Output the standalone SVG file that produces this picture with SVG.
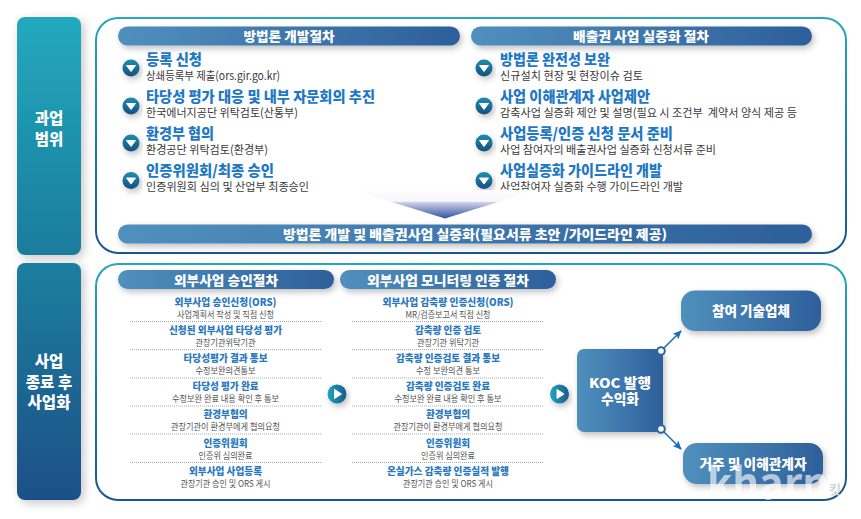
<svg xmlns="http://www.w3.org/2000/svg" width="861" height="519" viewBox="0 0 861 519">
<style>
text{font-family:"Noto Sans CJK KR","Noto Sans",sans-serif}
.hd{font-weight:800;font-size:13px;fill:#fff;text-anchor:middle}
.t{font-weight:900;font-size:14.5px;fill:#1e78c6}
.s{font-size:11.500px;fill:#3a3a3a}
.ct{font-weight:800;font-size:10.500px;fill:#2a78c0;text-anchor:middle}
.cs{font-size:9.200px;fill:#555;text-anchor:middle}
.side{font-weight:900;font-size:15.500px;fill:#fff;text-anchor:middle}
.box{font-weight:800;font-size:13.500px;fill:#fff;text-anchor:middle}
.dot{stroke:#aaa;stroke-width:1;stroke-dasharray:1 1;fill:none}
.conn{stroke:#1a6fbb;stroke-width:1.6;fill:none;marker-end:url(#ah)}
.knob{fill:#fff;stroke:#2b66a3;stroke-width:2}
</style>
<defs>
<linearGradient id="bar" x1="0" x2="1" y1="0" y2="0"><stop offset="0" stop-color="#5090bd"/><stop offset="1" stop-color="#2d5f9b"/></linearGradient>
<linearGradient id="side1" x1="0" x2="0" y1="0" y2="1"><stop offset="0" stop-color="#23a9bd"/><stop offset="1" stop-color="#1a7c9d"/></linearGradient>
<linearGradient id="side2" x1="0" x2="0" y1="0" y2="1"><stop offset="0" stop-color="#1a7f9f"/><stop offset="1" stop-color="#1a5087"/></linearGradient>
<linearGradient id="pan" x1="0" x2="0" y1="0" y2="1"><stop offset="0" stop-color="#25a8bc"/><stop offset="1" stop-color="#1a5690"/></linearGradient>
<linearGradient id="bul" x1="0" x2="0" y1="0" y2="1"><stop offset="0" stop-color="#1e8fac"/><stop offset="1" stop-color="#174f80"/></linearGradient>
<linearGradient id="play" x1="0" x2="1" y1="0" y2="0"><stop offset="0" stop-color="#22a5ba"/><stop offset="1" stop-color="#1a5a90"/></linearGradient>
<linearGradient id="tri" x1="0" x2="0" y1="0" y2="1"><stop offset="0" stop-color="#fff"/><stop offset=".4" stop-color="#f6f6fb"/><stop offset=".43" stop-color="#cfd2ea"/><stop offset="1" stop-color="#3450a0"/></linearGradient>
<filter id="sh" x="-20%" y="-30%" width="140%" height="180%"><feDropShadow dx="2" dy="3" stdDeviation="3" flood-color="#000" flood-opacity=".25"/></filter>
<filter id="sh2" x="-30%" y="-20%" width="170%" height="130%"><feDropShadow dx="3" dy="3" stdDeviation="5" flood-color="#000" flood-opacity=".22"/></filter>
<marker id="ah" markerWidth="9" markerHeight="8" refX="8" refY="4" orient="auto" markerUnits="userSpaceOnUse"><path d="M0 0L9 4L0 8L2 4Z" fill="#1a6fbb"/></marker>
<g id="bl"><circle r="8.500" fill="url(#bul)" filter="url(#sh)"/><path d="M-4.500-2.500H4.500L0 3.500Z" fill="#fff" stroke="#fff" stroke-linejoin="round"/></g>
<g id="pl"><circle r="9.500" fill="url(#play)" filter="url(#sh)"/><path d="M-2.500-4.500L4.500 0L-2.500 4.500Z" fill="#fff" stroke="#fff" stroke-linejoin="round"/></g>
</defs>

<g id="side-scope"><rect x="17" y="17" width="64" height="238" rx="8" fill="url(#side1)" filter="url(#sh2)"/>
<text class="side" x="49" y="123.500">과업</text><text class="side" x="49" y="144.500">범위</text></g>
<g id="side-after"><rect x="17" y="263" width="64" height="237" rx="8" fill="url(#side2)" filter="url(#sh2)"/>
<text class="side" x="49" y="367">사업</text><text class="side" x="49" y="387.500">종료 후</text><text class="side" x="49" y="407.500">사업화</text></g>

<g id="panel-top"><rect x="96" y="18" width="750" height="235" rx="22" fill="#fff" stroke="url(#pan)" stroke-width="2"/></g>
<g id="panel-bottom"><rect x="96" y="264" width="750" height="236" rx="22" fill="#fff" stroke="url(#pan)" stroke-width="2"/></g>

<g id="header-method"><rect x="118" y="26.500" width="342" height="19" rx="9.500" fill="url(#bar)" filter="url(#sh)"/><text class="hd" x="289" y="40.500" textLength="91" lengthAdjust="spacingAndGlyphs">방법론 개발절차</text></g>
<g id="header-credit"><rect x="471" y="26.500" width="341" height="19" rx="9.500" fill="url(#bar)" filter="url(#sh)"/><text class="hd" x="641" y="40.500" textLength="136" lengthAdjust="spacingAndGlyphs">배출권 사업 실증화 절차</text></g>

<g id="left-steps">
<use href="#bl" x="131" y="68"/><text class="t" x="146" y="64.500" textLength="56" lengthAdjust="spacingAndGlyphs">등록 신청</text><text class="s" x="146" y="79.500" textLength="134" lengthAdjust="spacingAndGlyphs">상쇄등록부 제출(ors.gir.go.kr)</text>
<use href="#bl" x="131" y="106"/><text class="t" x="146" y="102" textLength="229" lengthAdjust="spacingAndGlyphs">타당성 평가 대응 및 내부 자문회의 추진</text><text class="s" x="146" y="116.500" textLength="152" lengthAdjust="spacingAndGlyphs">한국에너지공단 위탁검토(산통부)</text>
<use href="#bl" x="131" y="143"/><text class="t" x="146" y="139" textLength="68" lengthAdjust="spacingAndGlyphs">환경부 협의</text><text class="s" x="146" y="153.500" textLength="122" lengthAdjust="spacingAndGlyphs">환경공단 위탁검토(환경부)</text>
<use href="#bl" x="131" y="180.500"/><text class="t" x="146" y="176" textLength="128" lengthAdjust="spacingAndGlyphs">인증위원회/최종 승인</text><text class="s" x="146" y="190.500" textLength="163" lengthAdjust="spacingAndGlyphs">인증위원회 심의 및 산업부 최종승인</text>
</g>
<g id="right-steps">
<use href="#bl" x="484" y="68"/><text class="t" x="500" y="64.500" textLength="110" lengthAdjust="spacingAndGlyphs">방법론 완전성 보완</text><text class="s" x="500" y="79.500" textLength="143" lengthAdjust="spacingAndGlyphs">신규설치 현장 및 현장이슈 검토</text>
<use href="#bl" x="484" y="106"/><text class="t" x="500" y="102" textLength="150" lengthAdjust="spacingAndGlyphs">사업 이해관계자 사업제안</text><text class="s" x="500" y="116.500" textLength="297" lengthAdjust="spacingAndGlyphs" xml:space="preserve">감축사업 실증화 제안 및 설명(필요 시 조건부  계약서 양식 제공 등</text>
<use href="#bl" x="484" y="143"/><text class="t" x="500" y="139" textLength="173" lengthAdjust="spacingAndGlyphs">사업등록/인증 신청 문서 준비</text><text class="s" x="500" y="153.500" textLength="216" lengthAdjust="spacingAndGlyphs">사업 참여자의 배출권사업 실증화 신청서류 준비</text>
<use href="#bl" x="484" y="180.500"/><text class="t" x="500" y="176" textLength="162" lengthAdjust="spacingAndGlyphs">사업실증화 가이드라인 개발</text><text class="s" x="500" y="190.500" textLength="183" lengthAdjust="spacingAndGlyphs">사업참여자 실증화 수행 가이드라인 개발</text>
</g>

<polygon id="funnel" points="353,190 537,190 445,218.500" fill="url(#tri)"/>

<g id="bar-result"><rect x="118" y="224.500" width="694" height="19" rx="9.500" fill="url(#bar)" filter="url(#sh)"/><text class="hd" x="475" y="238.500" textLength="384" lengthAdjust="spacingAndGlyphs">방법론 개발 및 배출권사업 실증화(필요서류 초안 /가이드라인 제공)</text></g>

<g id="header-approval"><rect x="118" y="270" width="216" height="19" rx="9.500" fill="url(#bar)" filter="url(#sh)"/><text class="hd" x="226" y="284.500" textLength="104" lengthAdjust="spacingAndGlyphs">외부사업 승인절차</text></g>
<g id="header-monitor"><rect x="340" y="270" width="216" height="19" rx="9.500" fill="url(#bar)" filter="url(#sh)"/><text class="hd" x="448" y="284.500" textLength="162" lengthAdjust="spacingAndGlyphs">외부사업 모니터링 인증 절차</text></g>

<g id="approval-list">
<text class="ct" x="225.500" y="306" textLength="102" lengthAdjust="spacingAndGlyphs">외부사업 승인신청(ORS)</text><text class="cs" x="225.500" y="318" textLength="97" lengthAdjust="spacingAndGlyphs">사업계획서 작성 및 직접 신청</text>
<path class="dot" d="M130 321.500H322"/>
<text class="ct" x="225.500" y="334" textLength="113" lengthAdjust="spacingAndGlyphs">신청된 외부사업 타당성 평가</text><text class="cs" x="225.500" y="346" textLength="60" lengthAdjust="spacingAndGlyphs">관장기관위탁기관</text>
<path class="dot" d="M130 349.500H322"/>
<text class="ct" x="225.500" y="362" textLength="84" lengthAdjust="spacingAndGlyphs">타당성평가 결과 통보</text><text class="cs" x="225.500" y="374" textLength="60" lengthAdjust="spacingAndGlyphs">수정보완의견통보</text>
<path class="dot" d="M130 378H322"/>
<text class="ct" x="225.500" y="390" textLength="66" lengthAdjust="spacingAndGlyphs">타당성 평가 완료</text><text class="cs" x="225.500" y="402" textLength="107" lengthAdjust="spacingAndGlyphs">수정보완 완료 내용 확인 후 통보</text>
<path class="dot" d="M130 406H322"/>
<text class="ct" x="225.500" y="418" textLength="44" lengthAdjust="spacingAndGlyphs">환경부협의</text><text class="cs" x="225.500" y="430" textLength="109" lengthAdjust="spacingAndGlyphs">관장기관이 환경부에게 협의요청</text>
<path class="dot" d="M130 434H322"/>
<text class="ct" x="225.500" y="446.500" textLength="44" lengthAdjust="spacingAndGlyphs">인증위원회</text><text class="cs" x="225.500" y="458.500" textLength="54" lengthAdjust="spacingAndGlyphs">인증위 심의완료</text>
<path class="dot" d="M130 462.500H322"/>
<text class="ct" x="225.500" y="474.500" textLength="73" lengthAdjust="spacingAndGlyphs">외부사업 사업등록</text><text class="cs" x="225.500" y="486.500" textLength="90" lengthAdjust="spacingAndGlyphs">관장기관 승인 및 ORS 게시</text>
</g>
<g id="monitor-list">
<text class="ct" x="448" y="306" textLength="131" lengthAdjust="spacingAndGlyphs">외부사업 감축량 인증신청(ORS)</text><text class="cs" x="448" y="318" textLength="85" lengthAdjust="spacingAndGlyphs">MR/검증보고서 직접 신청</text>
<path class="dot" d="M352 321.500H544"/>
<text class="ct" x="448" y="334" textLength="66" lengthAdjust="spacingAndGlyphs">감축량 인증 검토</text><text class="cs" x="448" y="346" textLength="62" lengthAdjust="spacingAndGlyphs">관장기관 위탁기관</text>
<path class="dot" d="M352 349.500H544"/>
<text class="ct" x="448" y="362" textLength="104" lengthAdjust="spacingAndGlyphs">감축량 인증검토 결과 통보</text><text class="cs" x="448" y="374" textLength="64" lengthAdjust="spacingAndGlyphs">수정 보완의견 통보</text>
<path class="dot" d="M352 378H544"/>
<text class="ct" x="448" y="390" textLength="84" lengthAdjust="spacingAndGlyphs">감축량 인증검토 완료</text><text class="cs" x="448" y="402" textLength="107" lengthAdjust="spacingAndGlyphs">수정보완 완료 내용 확인 후 통보</text>
<path class="dot" d="M352 406H544"/>
<text class="ct" x="448" y="418" textLength="44" lengthAdjust="spacingAndGlyphs">환경부협의</text><text class="cs" x="448" y="430" textLength="109" lengthAdjust="spacingAndGlyphs">관장기관이 환경부에게 협의요청</text>
<path class="dot" d="M352 434H544"/>
<text class="ct" x="448" y="446.500" textLength="44" lengthAdjust="spacingAndGlyphs">인증위원회</text><text class="cs" x="448" y="458.500" textLength="54" lengthAdjust="spacingAndGlyphs">인증위 심의완료</text>
<path class="dot" d="M352 462.500H544"/>
<text class="ct" x="448" y="474.500" textLength="122" lengthAdjust="spacingAndGlyphs">온실가스 감축량 인증실적 발행</text><text class="cs" x="448" y="486.500" textLength="90" lengthAdjust="spacingAndGlyphs">관장기관 승인 및 ORS 게시</text>
</g>

<use id="play-1" href="#pl" x="337" y="394"/>
<use id="play-2" href="#pl" x="559.500" y="394"/>

<g id="node-koc"><rect x="577" y="349" width="86" height="83" rx="7" fill="url(#bar)" filter="url(#sh)"/><text class="box" x="620" y="388" textLength="62" lengthAdjust="spacingAndGlyphs">KOC 발행</text><text class="box" x="620" y="404" textLength="38" lengthAdjust="spacingAndGlyphs">수익화</text></g>
<g id="node-tech"><rect x="681" y="290.500" width="140" height="40.500" rx="14" fill="url(#bar)" filter="url(#sh)"/><text class="box" x="751" y="316" textLength="78" lengthAdjust="spacingAndGlyphs">참여 기술업체</text></g>
<g id="node-stake"><rect x="683" y="443" width="140" height="41" rx="14" fill="url(#bar)" filter="url(#sh)"/><text class="box" x="753" y="468.500" textLength="107" lengthAdjust="spacingAndGlyphs">거주 및 이해관계자</text></g>

<g id="connectors">
<path class="conn" d="M661 351L681 331"/>
<path class="conn" d="M661 429L681 449"/>
<circle class="knob" cx="661" cy="351" r="3.800"/>
<circle class="knob" cx="661" cy="429" r="3.800"/>
</g>

<g id="watermark">
<text x="707" y="499" font-family="'Liberation Sans',sans-serif" font-size="43" font-weight="700" fill="#fff" opacity=".62" textLength="122" lengthAdjust="spacingAndGlyphs">kharn</text>
<text x="829" y="494" font-size="13" font-weight="700" fill="#d4d4d4">킷</text>
</g>
</svg>
